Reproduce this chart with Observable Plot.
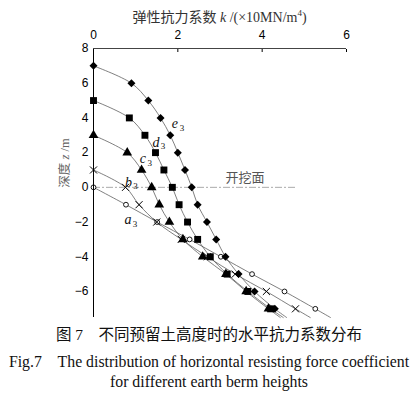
<!DOCTYPE html>
<html><head><meta charset="utf-8">
<script src="https://cdn.jsdelivr.net/npm/d3@7"></script>
<script src="https://cdn.jsdelivr.net/npm/@observablehq/plot@0.6"></script>
<style>
body{margin:0;background:#fff;}
#wrap{position:relative;width:418px;height:395px;overflow:hidden;}
#xtitle{position:absolute;top:8px;left:0;width:439px;text-align:center;font:14px "Liberation Serif","Noto Sans CJK SC",serif;line-height:20px;color:#333;white-space:nowrap;}
#xtitle sup{font-size:9px;vertical-align:6px;line-height:0;}
#ytitle{position:absolute;left:63px;top:163px;transform:translate(-50%,-50%) rotate(-90deg);font:12.5px "Liberation Serif","Noto Sans CJK SC",serif;color:#666;white-space:nowrap;}
#cap{position:absolute;top:325px;left:0;width:418px;text-align:center;font-family:"Liberation Serif","Noto Sans CJK SC",serif;color:#111;white-space:nowrap;}
#cap div{line-height:20px;font-size:15.8px;}
#cap .l1{margin-bottom:7px;font-size:15.5px;}
</style></head><body>
<div id="wrap">
<div id="chart"></div>
<div id="xtitle">弹性抗力系数 <i>k</i> /(×10MN/m<sup>4</sup>)</div>
<div id="ytitle">深度 <i>z</i> /m</div>
<div id="cap">
<div class="l1">图 7　不同预留土高度时的水平抗力系数分布</div>
<div>Fig.7　The distribution of horizontal resisting force coefficient</div>
<div>for different earth berm heights</div>
</div>
</div>
<script>
// depth z (m) and coefficient k (×10 MN/m^4); last entry of each series is the unmarked line end at the frame bottom
const a3_z = [0, -1, -2, -3, -4, -5, -6, -7, -7.5];
const a3_k = [0, 0.77, 1.51, 2.28, 3.02, 3.76, 4.53, 5.26, 5.62];
const b3_z = [1, 0, -1, -2, -3, -4, -5, -6, -7, -7.5];
const b3_k = [0, 0.76, 1.08, 1.50, 2.08, 2.70, 3.36, 4.10, 4.79, 5.14];
const c3_z = [3, 2, 1, 0, -1, -2, -3, -4, -5, -6, -7, -7.5];
const c3_k = [0, 0.80, 1.14, 1.38, 1.56, 1.80, 2.12, 2.59, 3.14, 3.62, 4.15, 4.43];
const d3_z = [5, 4, 3, 2, 1, 0, -1, -2, -3, -4, -5, -6, -7, -7.5];
const d3_k = [0, 0.85, 1.22, 1.47, 1.67, 1.87, 2.03, 2.23, 2.47, 2.77, 3.17, 3.66, 4.20, 4.50];
const e3_z = [7, 6, 5, 4, 3, 2, 1, 0, -1, -2, -3, -4, -5, -6, -7, -7.5];
const e3_k = [0, 0.90, 1.30, 1.59, 1.82, 2.00, 2.17, 2.33, 2.47, 2.69, 2.91, 3.13, 3.44, 3.82, 4.30, 4.58];

const xTicks = [0, 2, 4, 6];
const yTicks = [8, 6, 4, 2, 0, -2, -4, -6];
const xDomain = [0, 6];
const yDomain = [-7.5, 8];
const excavationZ = 0;
const excavationK = [0, 4.82];
const excavationLabel = {text: "开挖面", k: 3.59, z: 0.56};

const seriesLabels = ["a", "b", "c", "d", "e"];
const labelK = [0.82, 0.83, 1.17, 1.48, 1.93];
const labelZ = [-1.86, 0.3, 1.65, 2.6, 3.66];

const series = [
  {name: "a3", z: a3_z, k: a3_k},
  {name: "b3", z: b3_z, k: b3_k},
  {name: "c3", z: c3_z, k: c3_k},
  {name: "d3", z: d3_z, k: d3_k},
  {name: "e3", z: e3_z, k: e3_k}
];
const rows = series.flatMap(s => s.z.map((z, i) => ({series: s.name, z, k: s.k[i], marked: z >= -7})));
const marked = name => rows.filter(d => d.series === name && d.marked);
const labels = seriesLabels.map((t, i) => ({t, k: labelK[i], z: labelZ[i]}));

const chart = Plot.plot({
  width: 418,
  height: 322,
  marginTop: 48,
  marginLeft: 93,
  marginRight: 72,
  marginBottom: 5,
  style: {fontSize: "12px", fontFamily: "'Liberation Sans', Arial, sans-serif", color: "#000", background: "#fff"},
  x: {domain: xDomain},
  y: {domain: yDomain},
  marks: [
    Plot.ruleY([excavationZ], {x1: excavationK[0], x2: excavationK[1], stroke: "#aaa", strokeWidth: 1, strokeDasharray: "7,2,2,2"}),
    Plot.line(rows, {x: "k", y: "z", z: "series", curve: "catmull-rom", stroke: "#555", strokeWidth: 0.75}),
    Plot.dot(marked("a3"), {x: "k", y: "z", symbol: "circle", r: 2.4, fill: "#fff", stroke: "#000", strokeWidth: 0.9}),
    Plot.dot(marked("b3"), {x: "k", y: "z", symbol: "times", r: 3.3, stroke: "#000", strokeWidth: 1}),
    Plot.dot(marked("c3"), {x: "k", y: "z", symbol: "triangle", r: 3.6, fill: "#000", stroke: "none"}),
    Plot.dot(marked("d3"), {x: "k", y: "z", symbol: "square", r: 3.9, fill: "#000", stroke: "none"}),
    Plot.dot(marked("e3"), {x: "k", y: "z", symbol: "diamond2", r: 3.6, fill: "#000", stroke: "none"}),
    Plot.ruleX([xDomain[0]], {stroke: "#000", strokeWidth: 1}),
    Plot.ruleY([yDomain[1]], {stroke: "#444", strokeWidth: 1}),
    Plot.axisX({anchor: "top", ticks: xTicks, tickSize: -3, tickPadding: 13, label: null, tickFormat: d3.format("d")}),
    Plot.axisY({anchor: "left", ticks: yTicks, tickSize: 0, tickPadding: 5, label: null}),
    Plot.text([excavationLabel], {x: "k", y: "z", text: "text", fill: "#555", fontSize: 13, fontFamily: "'Noto Sans CJK SC', sans-serif"}),
    Plot.text(labels, {x: "k", y: "z", text: "t", fontStyle: "italic", fontSize: 14, fontFamily: "'Liberation Serif', serif", fill: "#111"}),
    Plot.text(labels, {x: "k", y: "z", text: () => "3", dx: 7, dy: 4, fontSize: 9, fontFamily: "'Liberation Serif', serif", fill: "#111"})
  ]
});
document.getElementById("chart").append(chart);
</script>
</body></html>
